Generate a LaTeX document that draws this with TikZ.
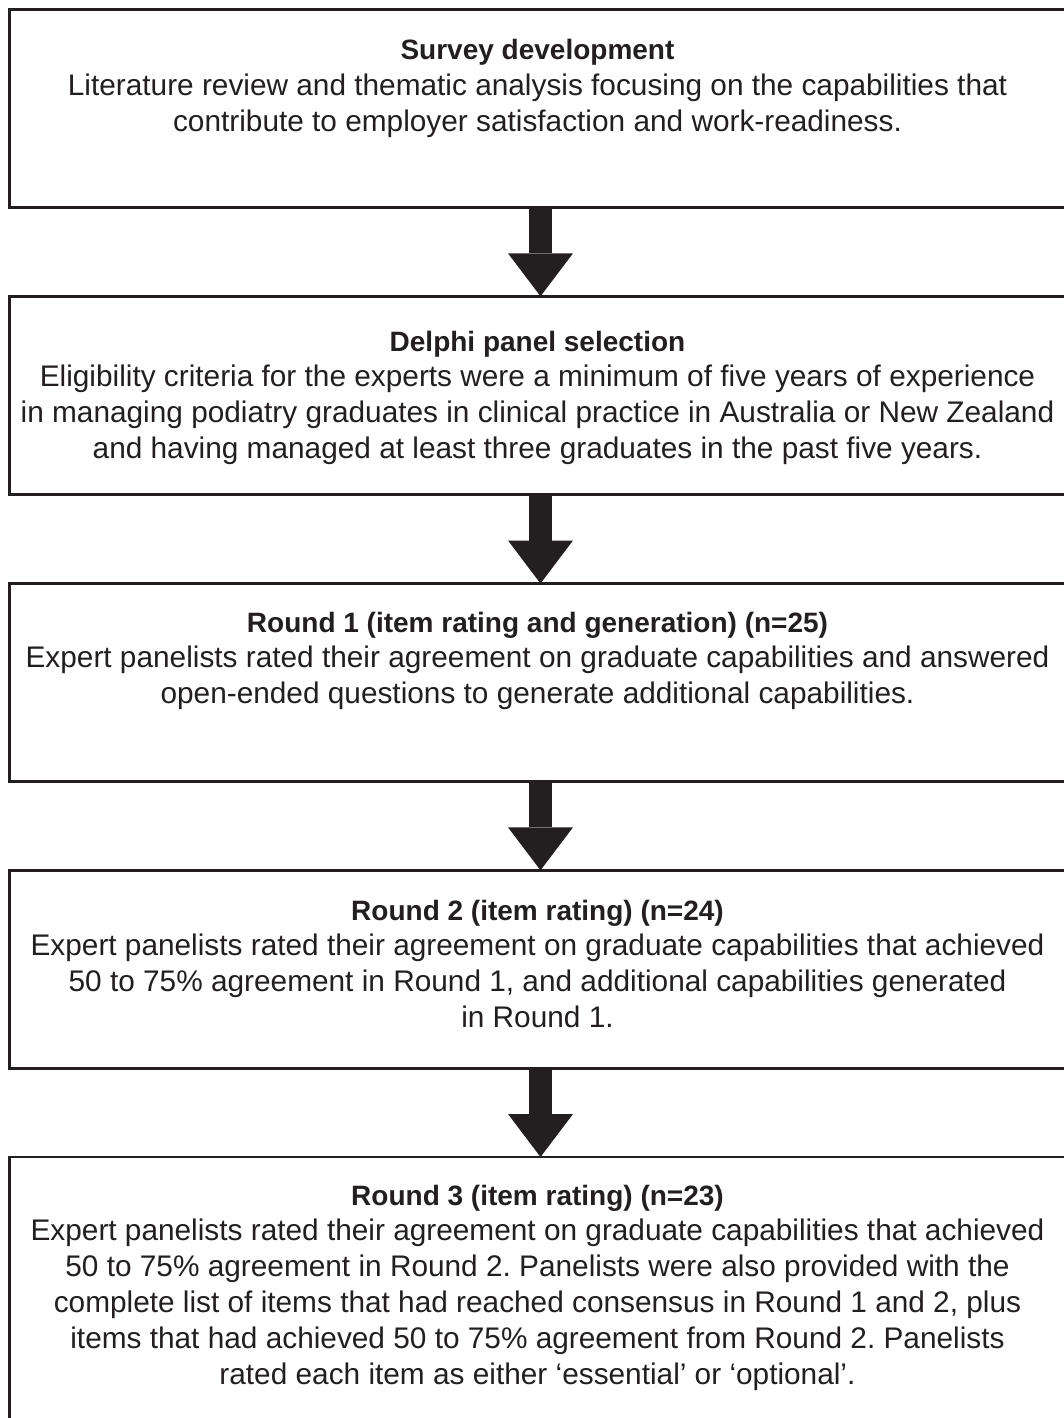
\documentclass[tikz,border=0pt]{standalone}
\usepackage{fontspec}
\setmainfont{Liberation Sans}
\usetikzlibrary{arrows.meta}
\definecolor{ink}{HTML}{231F20}
\newcommand{\ttl}[1]{\rule{0pt}{22pt}{\fontsize{28}{35.8}\selectfont\bfseries #1}}
\frenchspacing
\begin{document}
\begin{tikzpicture}[x=1pt,y=-1pt,
  stagebox/.style={draw=ink, line width=2.7pt, minimum width=1061.6pt, minimum height=198pt, inner sep=0pt, outer sep=0pt, anchor=north west},
  stagetext/.style={anchor=north, inner sep=0pt, outer sep=0pt, align=center, text=ink, font=\fontsize{29.8}{35.8}\selectfont\frenchspacing},
  bigarrow/.style={draw=ink, line width=23pt, -{Triangle[width=65pt,length=43pt,line width=0pt]}},
]
\useasboundingbox (0,0) rectangle (1064,1418);
\clip (0,0) rectangle (1064,1418);
\fill[white] (0,0) rectangle (1064,1418);

\node[stagebox] (b1) at (9.7,9.7) {};
\node[stagebox, minimum height=198.5pt] (b2) at (9.7,296.3) {};
\node[stagebox] (b3) at (9.7,583.5) {};
\node[stagebox] (b4) at (9.7,870.3) {};
\node[stagebox, minimum height=300pt] (b5) at (9.7,1157) {};

\draw[bigarrow] (b1.south) -- (b2.north);
\draw[bigarrow] (b2.south) -- (b3.north);
\draw[bigarrow] (b3.south) -- (b4.north);
\draw[bigarrow] (b4.south) -- (b5.north);

\node[stagetext] (t1) at (537.5,38) {\ttl{Survey development}\\
Literature review and thematic analysis focusing on the capabilities that\\
contribute to employer satisfaction and work-readiness.};

\node[stagetext] (t2) at (537.5,329) {\ttl{Delphi panel selection}\\
Eligibility criteria for the experts were a minimum of five years of experience\\
in managing podiatry graduates in clinical practice in Australia or New Zealand\\
and having managed at least three graduates in the past five years.};

\node[stagetext] (t3) at (537.5,610) {\ttl{Round 1 (item rating and generation) (n=25)}\\
Expert panelists rated their agreement on graduate capabilities and answered\\
open-ended questions to generate additional capabilities.};

\node[stagetext] (t4) at (537.5,898) {\ttl{Round 2 (item rating) (n=24)}\\
Expert panelists rated their agreement on graduate capabilities that achieved\\
50 to 75\% agreement in Round 1, and additional capabilities generated\\
in Round 1.};

\node[stagetext] (t5) at (537.5,1183) {\ttl{Round 3 (item rating) (n=23)}\\
Expert panelists rated their agreement on graduate capabilities that achieved\\
50 to 75\% agreement in Round 2. Panelists were also provided with the\\
complete list of items that had reached consensus in Round 1 and 2, plus\\
items that had achieved 50 to 75\% agreement from Round 2. Panelists\\
rated each item as either ‘essential’ or ‘optional’.};
\end{tikzpicture}
\end{document}
